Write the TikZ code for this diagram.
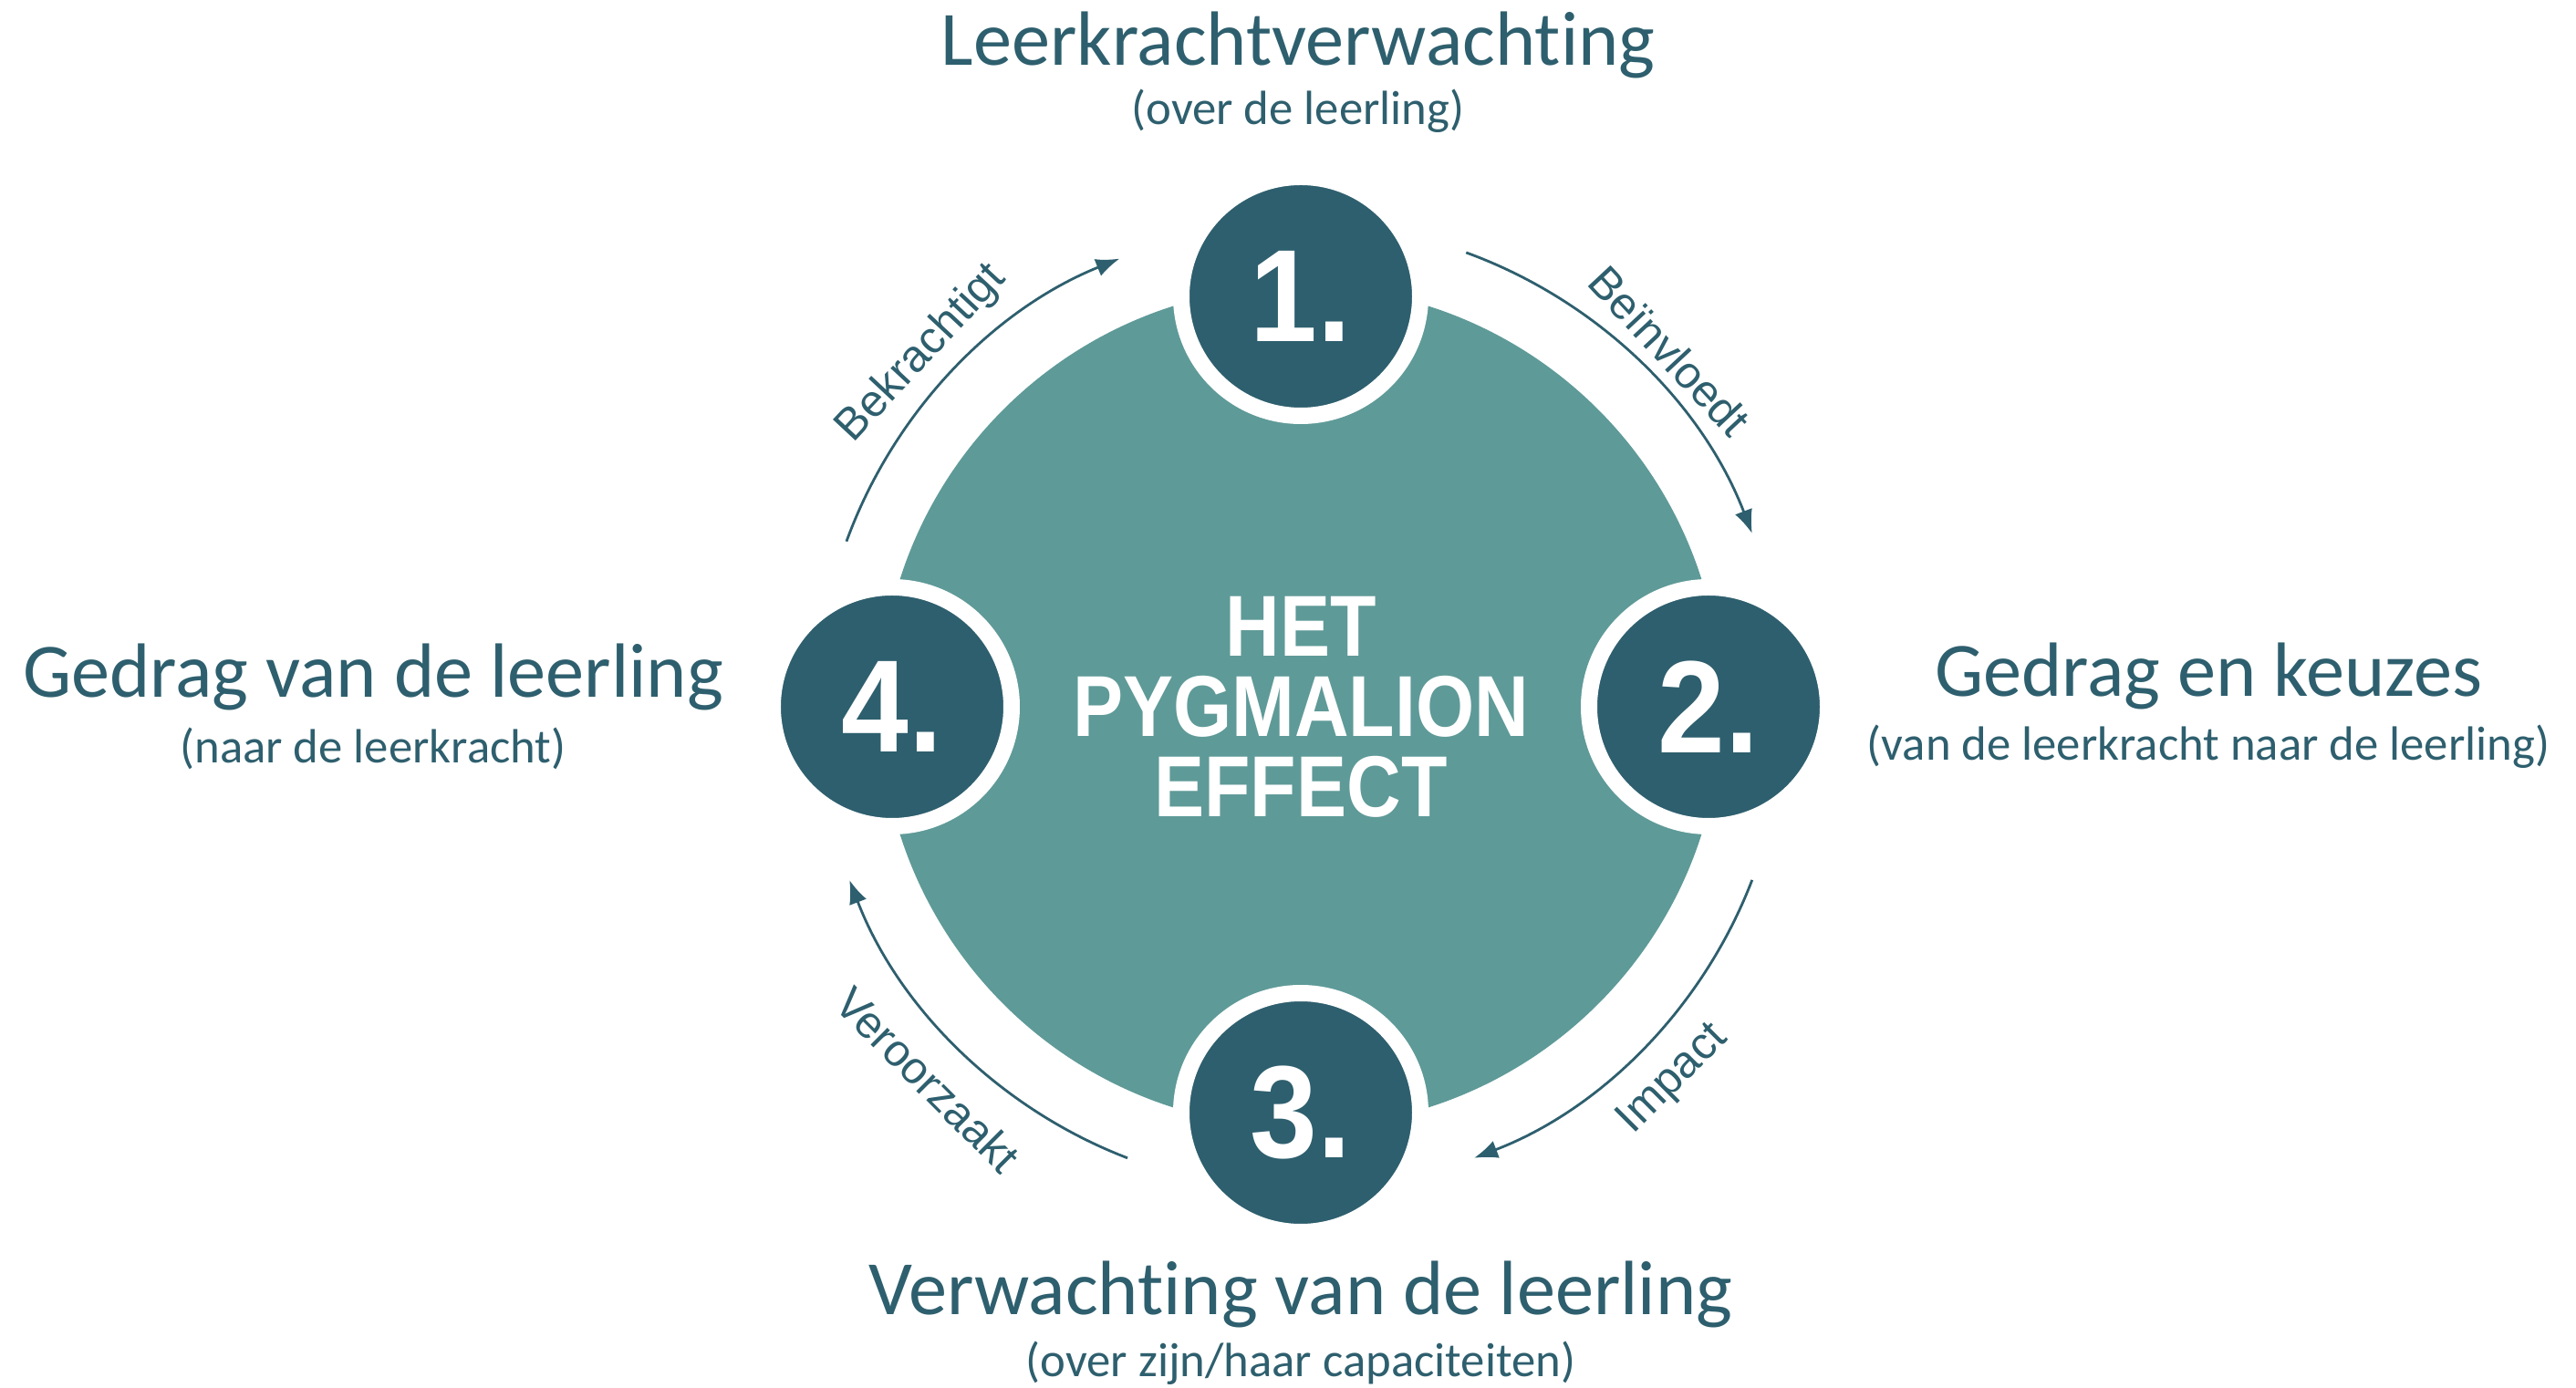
\documentclass[tikz,border=0pt]{standalone}
\usepackage{fontspec}
\setmainfont{Carlito}[Ligatures=NoCommon]
\newfontfamily\arcfont{Liberation Sans}
\newfontfamily\corefont{Liberation Sans}[FakeStretch=0.87]
\newfontfamily\numfont{Liberation Sans}[FakeStretch=0.92]
\usetikzlibrary{arrows.meta, positioning}
\definecolor{coreteal}{RGB}{94, 154, 152}
\definecolor{darkteal}{RGB}{46, 95, 110}

\begin{document}
\begin{tikzpicture}[
    core/.style={circle, fill=coreteal, minimum size=9.22cm, inner sep=0pt,
                 text=white, font=\corefont\bfseries\fontsize{27}{25}\selectfont,
                 align=center},
    number/.style={circle, fill=darkteal, draw=white, line width=0.18cm,
                   minimum size=2.62cm, inner sep=0pt, text=white,
                   font=\numfont\bfseries\fontsize{41}{41}\selectfont},
    title/.style={text=darkteal, font=\fontsize{24}{24}\selectfont,
                  anchor=base, inner sep=0pt},
    subtitle/.style={text=darkteal, font=\fontsize{15}{15}\selectfont,
                     anchor=base, inner sep=0pt},
    cycle/.style={-{Latex[length=2.6mm, width=2mm]}, draw=darkteal,
                  line width=0.8pt},
    arclabel/.style={text=darkteal, font=\arcfont\fontsize{14}{14}\selectfont}
]
    \useasboundingbox (-14.26,-7.47) rectangle (13.98,7.75);

    % Centre and numbered steps
    \node[core] (core) at (0,0) {HET\\PYGMALION\\EFFECT};
    \node[number] (n1) at (0,4.5) {1.};
    \node[number] (n2) at (4.47,0) {2.};
    \node[number] (n3) at (0,-4.45) {3.};
    \node[number] (n4) at (-4.48,0) {4.};

    % Step titles
    \node[title] (t1) at (-0.03,7.03) {Leerkrachtverwachting};
    \node[subtitle] (s1) at (-0.03,6.38) {(over de leerling)};
    \node[title] (t2) at (9.95,0.11) {Gedrag en keuzes};
    \node[subtitle] (s2) at (9.95,-0.59) {(van de leerkracht naar de leerling)};
    \node[title] (t3) at (0,-6.66) {Verwachting van de leerling};
    \node[subtitle] (s3) at (0,-7.34) {(over zijn/haar capaciteiten)};
    \node[title] (t4) at (-10.17,0.10) {Gedrag van de leerling};
    \node[subtitle] (s4) at (-10.17,-0.62) {(naar de leerkracht)};

    % Cycle arrows
    \draw[cycle] ([shift={(160:5.3)}]core.center) arc[start angle=160, end angle=112, radius=5.3];
    \draw[cycle] ([shift={(70:5.3)}]core.center) arc[start angle=70, end angle=21, radius=5.3];
    \draw[cycle] ([shift={(-21:5.3)}]core.center) arc[start angle=-21, end angle=-69, radius=5.3];
    \draw[cycle] ([shift={(-111:5.3)}]core.center) arc[start angle=-111, end angle=-159, radius=5.3];

    % Arrow labels
    \node[arclabel, rotate=47] (l1) at ([shift={(137:5.68)}]core.center) {Bekrachtigt};
    \node[arclabel, rotate=-47] (l2) at ([shift={(44:5.62)}]core.center) {Beïnvloedt};
    \node[arclabel, rotate=45] (l3) at ([shift={(-45:5.78)}]core.center) {Impact};
    \node[arclabel, rotate=-45] (l4) at ([shift={(-135:5.78)}]core.center) {Veroorzaakt};

\end{tikzpicture}
\end{document}
